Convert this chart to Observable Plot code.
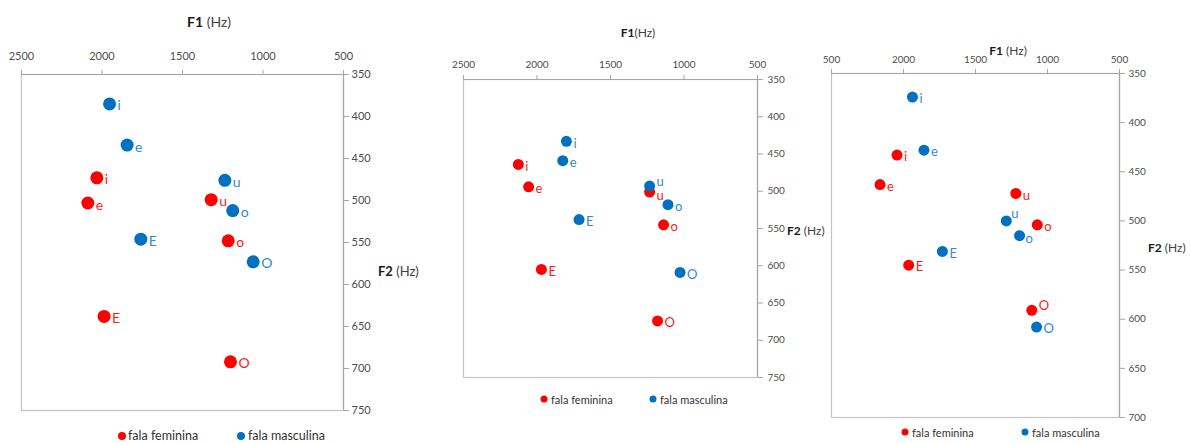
<!DOCTYPE html>
<html>
<head>
<meta charset="utf-8">
<script src="https://cdn.jsdelivr.net/npm/d3@7"></script>
<script src="https://cdn.jsdelivr.net/npm/@observablehq/plot@0.6"></script>
<style>
  html, body { margin: 0; padding: 0; background: #fff; }
  #chart { position: relative; width: 1191px; height: 443px; overflow: hidden; font-family: Lato, "Open Sans", sans-serif; }
  #chart svg { position: absolute; left: 0; top: 0; overflow: visible; }
  .lbl { position: absolute; white-space: nowrap; transform: translateY(-50%); color: #404040; line-height: 1; }
  .lbl b { color: #1a1a1a; }
  .ctr { transform: translate(-50%, -50%); }
  .key { position: absolute; white-space: nowrap; transform: translateY(-50%); color: #333; line-height: 1; }
  .sw { position: absolute; border-radius: 50%; transform: translate(-50%, -50%); }
</style>
</head>
<body>
<div id="chart"></div>
<script>
// Vowels in the order of the data arrays below
const vowels = ["i", "e", "E", "u", "o", "O"];
const series = ["fala feminina", "fala masculina"];
const colors = ["#ff0000", "#0070c0"];
const labelColors = ["#ff1a1a", "#3388d2"];

// Chart 1
const c1FemF1 = [2032, 2088, 1987, 1322, 1216, 1202];
const c1FemF2 = [473, 503, 638, 499, 548, 692];
const c1MascF1 = [1953, 1844, 1759, 1237, 1188, 1061];
const c1MascF2 = [385, 434, 546, 476, 512, 573];

// Chart 2
const c2FemF1 = [2127, 2057, 1970, 1234, 1139, 1180];
const c2FemF2 = [464, 494, 605, 501, 545, 674];
const c2MascF1 = [1800, 1825, 1714, 1234, 1109, 1027];
const c2MascF2 = [433, 459, 538, 493, 518, 609];

// Chart 3
const c3FemF1 = [2045, 2163, 1964, 1220, 1071, 1109];
const c3FemF2 = [433, 463, 545, 472, 504, 591];
const c3MascF1 = [1938, 1858, 1730, 1286, 1194, 1076];
const c3MascF2 = [374, 428, 531, 500, 515, 608];

// Axis ticks
const xTicks = [2500, 2000, 1500, 1000, 500];
const yTicks1 = [350, 400, 450, 500, 550, 600, 650, 700, 750];
const yTicks3 = [350, 400, 450, 500, 550, 600, 650, 700];
const xTickText3 = ["500", "2000", "1500", "1000", "500"];

function rows(femF1, femF2, mascF1, mascF2) {
  const out = [];
  vowels.forEach((v, i) => out.push({vowel: v, s: 0, f1: femF1[i], f2: femF2[i]}));
  vowels.forEach((v, i) => out.push({vowel: v, s: 1, f1: mascF1[i], f2: mascF2[i]}));
  return out;
}

const W = 1191, H = 443;
const panels = [
  {
    data: rows(c1FemF1, c1FemF2, c1MascF1, c1MascF2),
    frame: {l: 21, r: 343, t: 74, b: 410}, yTicks: yTicks1,
    r: 6.5, labelSize: 14, tickSize: 11, xPad: 10, yPad: 3,
    dx: 8, dy: 2, shift: {},
    xFmt: d => String(d),
    title: {x: 209, y: 22, size: 14, text: "<b>F1</b> (Hz)"},
    ytitle: {x: 378, y: 271, size: 13},
    legend: {y: 436, size: 12.5, dots: [122, 241], texts: [128, 248], r: 4}
  },
  {
    data: rows(c2FemF1, c2FemF2, c2MascF1, c2MascF2),
    frame: {l: 463, r: 757, t: 79, b: 377}, yTicks: yTicks1,
    r: 5.5, labelSize: 13, tickSize: 10, xPad: 7, yPad: 5,
    dx: 7, dy: 2, shift: {"1u": [7, -4], "0u": [7, 4]},
    xFmt: d => String(d),
    title: {x: 638, y: 33, size: 12, text: "<b>F1</b>(Hz)"},
    ytitle: {x: 787, y: 231, size: 12},
    legend: {y: 399, size: 11, dots: [544, 653], texts: [551, 660], r: 3.5}
  },
  {
    data: rows(c3FemF1, c3FemF2, c3MascF1, c3MascF2),
    frame: {l: 831, r: 1119, t: 73, b: 417}, yTicks: yTicks3,
    r: 5.5, labelSize: 13, tickSize: 10, xPad: 6, yPad: 4,
    dx: 7, dy: 2, shift: {"1u": [5, -7], "0O": [7, -5], "1o": [6, 3]},
    xFmt: d => xTickText3[xTicks.indexOf(d)],
    title: {x: 1008, y: 51, size: 12, text: "<b>F1</b> (Hz)"},
    ytitle: {x: 1148, y: 248, size: 12},
    legend: {y: 432, size: 11, dots: [905, 1025], texts: [912, 1032], r: 3.5}
  }
];

const chart = document.getElementById("chart");

for (const p of panels) {
  const f = p.frame;
  // group point labels by their offset so each group is one text mark
  const groups = d3.groups(p.data, d => (p.shift[d.s + d.vowel] || [p.dx, p.dy]).join(","));
  const labelMarks = groups.map(([key, g]) => {
    const [dx, dy] = key.split(",").map(Number);
    return Plot.text(g, {
      x: "f1", y: "f2", text: "vowel",
      fill: d => labelColors[d.s],
      textAnchor: "start", dx, dy,
      fontSize: p.labelSize
    });
  });

  const yMax = p.yTicks[p.yTicks.length - 1];
  const svg = Plot.plot({
    width: W, height: H,
    marginLeft: f.l, marginRight: W - f.r, marginTop: f.t, marginBottom: H - f.b,
    style: {fontFamily: "Lato, 'Open Sans', sans-serif", background: "transparent", overflow: "visible"},
    x: {domain: [500, 2500], reverse: true},
    y: {domain: [350, yMax], reverse: true},
    color: {type: "identity"},
    marks: [
      Plot.frame({stroke: "#c4c4c4", strokeWidth: 1.2}),
      Plot.ruleY([350], {stroke: "#a6a6a6", strokeWidth: 1.2}),
      Plot.ruleX([500], {stroke: "#a6a6a6", strokeWidth: 1.2}),
      Plot.axisX({
        anchor: "top", ticks: xTicks, tickSize: 5, tickPadding: p.xPad,
        tickFormat: p.xFmt, stroke: "#a6a6a6", color: "#4d4d4d",
        fontSize: p.tickSize, label: null
      }),
      Plot.axisY({
        anchor: "right", ticks: p.yTicks, tickSize: 5, tickPadding: p.yPad,
        tickFormat: d => String(d), stroke: "#a6a6a6", color: "#4d4d4d",
        fontSize: p.tickSize, label: null
      }),
      Plot.dot(p.data, {x: "f1", y: "f2", r: p.r, fill: d => colors[d.s], stroke: null}),
      ...labelMarks
    ]
  });
  chart.appendChild(svg);

  // axis titles
  const t = document.createElement("div");
  t.className = "lbl ctr";
  t.style.left = p.title.x + "px";
  t.style.top = p.title.y + "px";
  t.style.fontSize = p.title.size + "px";
  t.innerHTML = p.title.text;
  chart.appendChild(t);

  const yt = document.createElement("div");
  yt.className = "lbl";
  yt.style.left = p.ytitle.x + "px";
  yt.style.top = p.ytitle.y + "px";
  yt.style.fontSize = p.ytitle.size + "px";
  yt.innerHTML = "<b>F2</b> (Hz)";
  chart.appendChild(yt);

  // legend
  series.forEach((name, i) => {
    const sw = document.createElement("div");
    sw.className = "sw";
    sw.style.left = p.legend.dots[i] + "px";
    sw.style.top = p.legend.y + "px";
    sw.style.width = sw.style.height = (2 * p.legend.r) + "px";
    sw.style.background = colors[i];
    chart.appendChild(sw);
    const k = document.createElement("div");
    k.className = "key";
    k.style.left = p.legend.texts[i] + "px";
    k.style.top = p.legend.y + "px";
    k.style.fontSize = p.legend.size + "px";
    k.textContent = name;
    chart.appendChild(k);
  });
}
</script>
</body>
</html>
